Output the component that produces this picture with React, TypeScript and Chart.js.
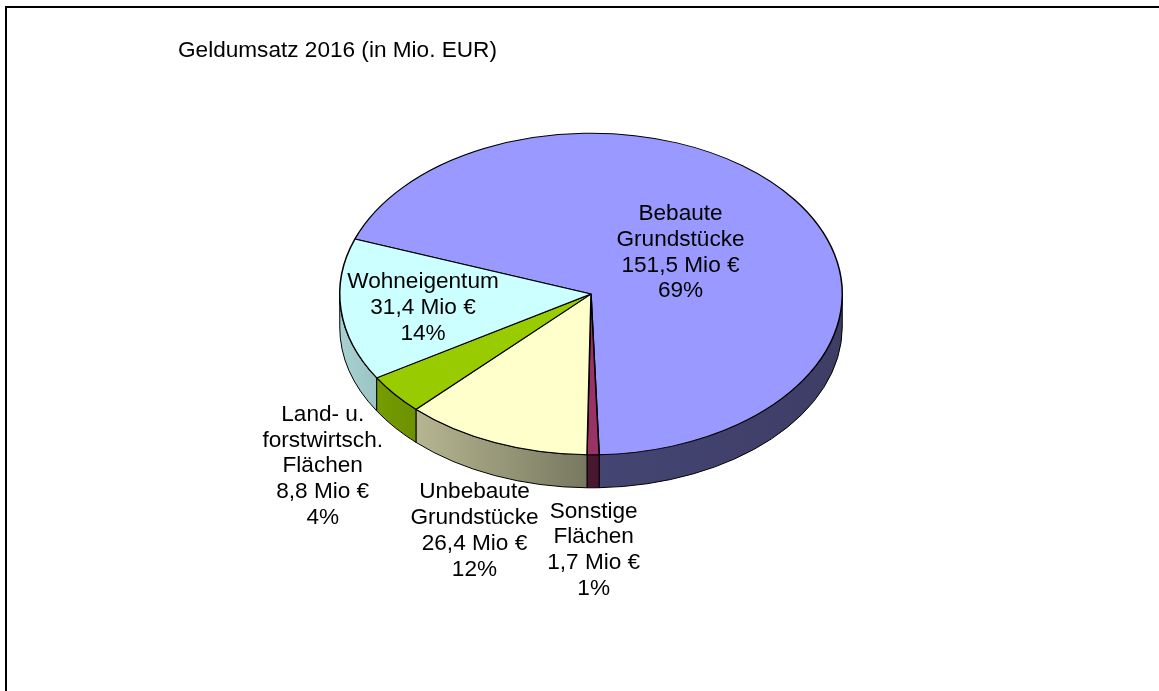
import { useEffect, useRef } from "react";
import { Chart, registerables } from "chart.js";

Chart.register(...registerables);

// ---- data ----
const categories = [
  "Bebaute Grundstücke",
  "Sonstige Flächen",
  "Unbebaute Grundstücke",
  "Land- u. forstwirtsch. Flächen",
  "Wohneigentum",
];
const values = [151.5, 1.7, 26.4, 8.8, 31.4];
const labelLines = [
  ["Bebaute", "Grundstücke"],
  ["Sonstige", "Flächen"],
  ["Unbebaute", "Grundstücke"],
  ["Land- u.", "forstwirtsch.", "Flächen"],
  ["Wohneigentum"],
];
const titleText = "Geldumsatz 2016 (in Mio. EUR)";

// ---- styles / layout ----
const colors = ["#9999FF", "#993366", "#FFFFCC", "#99CC00", "#CCFFFF"];
const labelPlacement = [
  { r: 0.44, dy: 0 },
  { r: 1.3, dy: 47 },
  { r: 1.21, dy: 57 },
  { r: 1.367, dy: 35 },
  { r: 0.672, dy: 3 },
];
const SQUASH = 0.64;
const DEPTH = 33;
const FONT = '22.6px "Liberation Sans", Arial, sans-serif';
const LINE_H = 25.8;

function shade(hex: string, f: number) {
  const n = parseInt(hex.slice(1), 16);
  const r = Math.round(((n >> 16) & 255) * f);
  const g = Math.round(((n >> 8) & 255) * f);
  const b = Math.round((n & 255) * f);
  return `rgb(${r},${g},${b})`;
}

const pie3d = {
  id: "pie3d",
  beforeDatasetsDraw(chart: any) {
    const ctx: CanvasRenderingContext2D = chart.ctx;
    const arcs = chart.getDatasetMeta(0).data as any[];
    if (!arcs.length) return;
    const cx = arcs[0].x;
    const cy = arcs[0].y;
    const R = arcs[0].outerRadius;
    ctx.save();
    ctx.lineWidth = 1;
    ctx.strokeStyle = "#000";
    arcs.forEach((arc, i) => {
      const { startAngle, endAngle } = arc;
      for (let n = -1; n <= 2; n++) {
        const lo = Math.max(startAngle, 2 * Math.PI * n);
        const hi = Math.min(endAngle, 2 * Math.PI * n + Math.PI);
        if (hi <= lo) continue;
        const grad = ctx.createLinearGradient(cx - R, 0, cx + R, 0);
        grad.addColorStop(0, shade(colors[i], 0.82));
        grad.addColorStop(0.52, shade(colors[i], 0.45));
        grad.addColorStop(1, shade(colors[i], 0.4));
        ctx.beginPath();
        ctx.ellipse(cx, cy, R, R * SQUASH, 0, lo, hi, false);
        ctx.ellipse(cx, cy + DEPTH, R, R * SQUASH, 0, hi, lo, true);
        ctx.closePath();
        ctx.fillStyle = grad;
        ctx.fill();
        ctx.stroke();
      }
    });
    ctx.restore();
    ctx.save();
    ctx.translate(cx, cy);
    ctx.scale(1, SQUASH);
    ctx.translate(-cx, -cy);
  },
  afterDatasetsDraw(chart: any) {
    const ctx: CanvasRenderingContext2D = chart.ctx;
    ctx.restore();
    const arcs = chart.getDatasetMeta(0).data as any[];
    if (!arcs.length) return;
    const total = values.reduce((a, b) => a + b, 0);
    ctx.save();
    ctx.fillStyle = "#000";
    ctx.font = FONT;
    ctx.textBaseline = "middle";
    ctx.textAlign = "center";
    arcs.forEach((arc, i) => {
      const mid = (arc.startAngle + arc.endAngle) / 2;
      const p = labelPlacement[i];
      const x = arc.x + Math.cos(mid) * arc.outerRadius * p.r;
      const y = arc.y + Math.sin(mid) * arc.outerRadius * SQUASH * p.r + p.dy;
      const lines = [
        ...labelLines[i],
        values[i].toFixed(1).replace(".", ",") + " Mio €",
        Math.round((values[i] / total) * 100) + "%",
      ];
      lines.forEach((t, j) => {
        ctx.fillText(t, x, y + (j - (lines.length - 1) / 2) * LINE_H);
      });
    });
    ctx.textAlign = "left";
    ctx.fillText(titleText, 178, 51);
    ctx.restore();
  },
};

export default function App() {
  const ref = useRef<HTMLCanvasElement>(null);
  useEffect(() => {
    const chart = new Chart(ref.current!, {
      type: "pie",
      data: {
        labels: categories,
        datasets: [
          {
            data: values,
            backgroundColor: colors,
            borderColor: "#000",
            borderWidth: 1.5,
            hoverOffset: 0,
            offset: 0,
          },
        ],
      },
      options: {
        responsive: false,
        animation: false,
        rotation: 290,
        events: [],
        layout: { padding: { left: 339, right: 316, top: 42, bottom: 145 } },
        plugins: {
          legend: { display: false },
          tooltip: { enabled: false },
          title: { display: false },
        },
      } as any,
      plugins: [pie3d as any],
    });
    return () => chart.destroy();
  }, []);
  return (
    <div
      style={{
        position: "fixed",
        left: 0,
        top: 0,
        width: 1159,
        height: 691,
        overflow: "hidden",
        background: "#fff",
      }}
    >
      <div
        style={{
          position: "absolute",
          left: 5,
          top: 6,
          width: 1400,
          height: 1000,
          border: "2px solid #000",
        }}
      />
      <canvas
        ref={ref}
        width={1159}
        height={691}
        style={{ position: "absolute", left: 0, top: 0 }}
      />
    </div>
  );
}
